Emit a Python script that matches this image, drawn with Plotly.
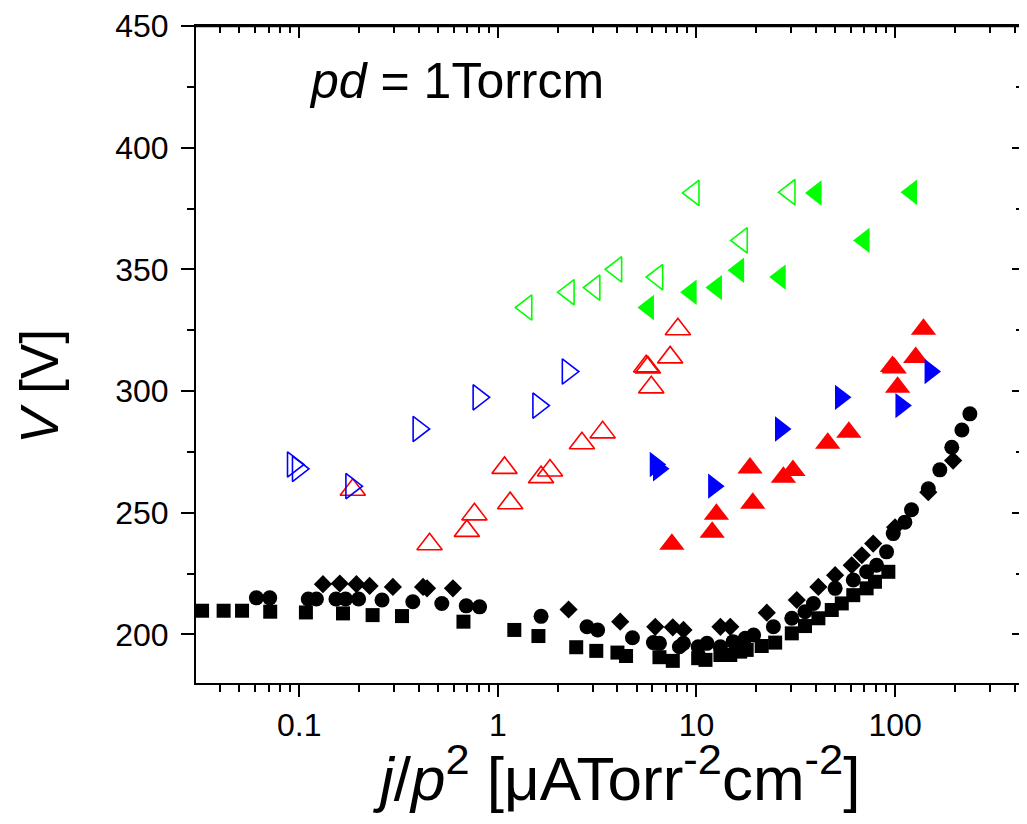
import plotly.graph_objects as go

# ---------------- data ----------------
sq_x = [0.0324, 0.0416, 0.0515, 0.0714, 0.108, 0.166, 0.234, 0.329, 0.671, 1.21, 1.60,
        2.48, 3.13, 4.0, 4.42, 6.51, 7.6, 10.2, 11.1, 13.2, 14.8, 16.6, 17.9, 21.3, 24.9,
        30.2, 35.2, 41.1, 48, 53.9, 61.6, 71.9, 79.2, 92.5]
sq_y = [209.7, 209.7, 209.7, 209.3, 209.0, 208.6, 207.9, 207.5, 205.2, 201.8, 199.3,
        194.7, 193.2, 192.5, 191.1, 190.6, 189.1, 190.2, 189.5, 191.5, 191.5, 192.9, 193.6, 195.2, 196.6,
        200.4, 203.4, 206.6, 210.0, 212.7, 216.1, 218.9, 221.6, 225.7]

ci_x = [0.0608, 0.071, 0.111, 0.122, 0.153, 0.171, 0.199, 0.261, 0.373, 0.522, 0.693, 0.809,
        1.65, 2.81, 3.18, 4.76, 6.07, 6.51, 8.2, 8.6, 10.2, 11.3, 13.2, 15.3, 17.6, 19.4,
        24.4, 30.2, 35.2, 38.8, 49.9, 61.6, 71.9, 80.7, 90.6, 97.9, 112, 121, 147, 168, 193, 217, 238]
ci_y = [215.0, 215.0, 214.5, 214.5, 214.5, 214.5, 214.5, 214.1, 213.4, 212.7, 211.7, 211.3,
        207.4, 203.1, 201.8, 198.6, 196.6, 196.3, 194.9, 196.3, 194.9, 196.3, 194.9, 197.0, 198.4, 199.7,
        203.1, 206.6, 209.3, 212.7, 218.9, 222.3, 225.7, 228.4, 233.9, 241.4, 246.1, 251.2, 259.8, 267.6, 276.9, 284.0, 290.6]

di_x = [0.1316, 0.160, 0.194, 0.226, 0.296, 0.42, 0.44, 0.594, 2.27, 4.13, 6.2, 7.6, 8.6,
        13.2, 14.8, 22.6, 32, 41.1, 49.9, 60.5, 68, 77.6, 100, 147, 196]
di_y = [220.6, 220.9, 220.6, 219.9, 219.5, 219.5, 218.9, 218.9, 210.2, 205.2, 203.1, 202.9, 201.8,
        203.1, 203.1, 208.9, 214.1, 219.5, 224.3, 228.4, 232.5, 237.3, 244.0, 258.4, 271.4]

red_open_x = [0.186, 0.453, 0.698, 0.762, 1.153, 1.08, 1.65, 1.83, 2.65, 3.37, 5.58, 5.69, 5.92, 7.37, 8.06]
red_open_y = [259.4, 237.0, 242.5, 249.3, 253.9, 268.4, 264.6, 267.3, 278.5, 283.0, 310.1, 309.7, 301.5, 313.8, 325.4]

red_fill_x = [7.52, 12.0, 12.6, 19.2, 18.6, 27.4, 30.6, 45.8, 58.5, 97, 99, 103, 127, 139]
red_fill_y = [237.0, 242.0, 249.3, 253.9, 268.4, 264.6, 267.3, 278.5, 283.0, 310.1, 309.5, 301.5, 313.8, 325.4]

blue_open_x = [0.093, 0.0985, 0.183, 0.399, 0.80, 1.60, 2.25]
blue_open_y = [269.8, 268.0, 260.9, 284.4, 297.4, 294.0, 308.0]

blue_fill_x = [6.2, 6.44, 12.2, 26.5, 53.1, 107, 150]
blue_fill_y = [269.8, 268.0, 260.9, 284.4, 297.4, 294.0, 308.0]

green_open_x = [1.39, 2.27, 3.06, 3.94, 6.34, 9.66, 16.9, 29.4]
green_open_y = [334.3, 340.6, 342.5, 350.0, 346.8, 381.4, 361.9, 381.7]

green_fill_x = [5.73, 9.4, 12.6, 16.3, 26.4, 40, 69.8, 121]
green_fill_y = [334.3, 340.6, 342.5, 349.6, 346.8, 381.4, 361.9, 381.7]

x_tickvals = [0.1, 1, 10, 100]
x_ticktext = ["0.1", "1", "10", "100"]
x_minor = [m * 10 ** e for e in (-2, -1, 0, 1, 2) for m in range(2, 10)]
y_tickvals = [200, 250, 300, 350, 400, 450]
y_minor = [225, 275, 325, 375, 425]

# ---------------- figure ----------------
FONT = "Liberation Sans, Arial, Helvetica, sans-serif"
fig = go.Figure()

def add(x, y, symbol, color, size, lw=0):
    fig.add_trace(go.Scatter(
        x=x, y=y, mode="markers", showlegend=False, hoverinfo="skip",
        marker=dict(symbol=symbol, color=color, size=size,
                    line=dict(color=color, width=lw))))

add(sq_x, sq_y, "square", "black", 14)
add(ci_x, ci_y, "circle", "black", 15)
add(di_x, di_y, "diamond", "black", 14)
add(red_open_x, red_open_y, "triangle-up-open", "#ff0000", 22, 1.6)
add(red_fill_x, red_fill_y, "triangle-up", "#ff0000", 22)
add(blue_open_x, blue_open_y, "triangle-right-open", "#0000ff", 22, 1.6)
add(blue_fill_x, blue_fill_y, "triangle-right", "#0000ff", 22)
add(green_open_x, green_open_y, "triangle-left-open", "#00ff00", 22, 1.6)
add(green_fill_x, green_fill_y, "triangle-left", "#00ff00", 22)

# empty trace to host the mirrored tick axes (top / right, inward ticks)
fig.add_trace(go.Scatter(x=[], y=[], xaxis="x2", yaxis="y2", showlegend=False))

# page = 8px body margin + figure; plot box: page x 196..1019, y 24.5..683.3
xr = [-1.52, 2.624]
yr = [180, 450]

fig.update_layout(
    width=1011, height=808,
    margin=dict(l=188, r=0, t=16, b=133),
    plot_bgcolor="white", paper_bgcolor="white",
    font=dict(family=FONT, color="black", size=32),
    showlegend=False,
    xaxis=dict(type="log", range=xr, tickmode="array", tickvals=x_tickvals, ticktext=x_ticktext,
               ticks="outside", ticklen=12, tickwidth=2, tickcolor="black",
               showline=True, linewidth=2, linecolor="black", mirror=True,
               showgrid=False, zeroline=False, tickfont=dict(size=32, family=FONT),
               ticklabelstandoff=1,
               minor=dict(tickmode="array", tickvals=x_minor, ticks="outside", ticklen=7,
                          tickwidth=2, tickcolor="black", showgrid=False)),
    yaxis=dict(range=yr, tickmode="array", tickvals=y_tickvals,
               ticks="outside", ticklen=13, tickwidth=2, tickcolor="black",
               showline=True, linewidth=2, linecolor="black",
               showgrid=False, zeroline=False, tickfont=dict(size=32, family=FONT),
               ticklabelstandoff=6, ticklabeloverflow="allow",
               minor=dict(tickmode="array", tickvals=y_minor, ticks="outside", ticklen=7,
                          tickwidth=2, tickcolor="black", showgrid=False)),
    xaxis2=dict(type="log", range=xr, overlaying="x", side="top", anchor="y2",
                tickmode="array", tickvals=x_tickvals, showticklabels=False,
                ticks="inside", ticklen=12, tickwidth=2, tickcolor="black",
                showline=False, showgrid=False, zeroline=False,
                minor=dict(tickmode="array", tickvals=x_minor, ticks="inside", ticklen=7,
                           tickwidth=2, tickcolor="black", showgrid=False)),
    yaxis2=dict(range=yr, overlaying="y", side="right", anchor="x2",
                tickmode="array", tickvals=y_tickvals, showticklabels=False,
                ticks="inside", ticklen=7, tickwidth=2, tickcolor="black",
                showline=False, showgrid=False, zeroline=False,
                minor=dict(tickmode="array", tickvals=y_minor, ticks="inside", ticklen=3,
                           tickwidth=2, tickcolor="black", showgrid=False)),
    shapes=[
        # top frame line of the plot box
        dict(type="line", xref="paper", yref="paper", x0=0, x1=1, y0=1, y1=1,
             line=dict(color="black", width=2.5), layer="above"),
    ],
    annotations=[
        dict(text="<i>pd</i> = 1Torrcm", x=0.1345, y=0.917, xref="paper", yref="paper",
             xanchor="left", yanchor="middle", showarrow=False, font=dict(size=50, family=FONT)),
        dict(text="<i>V</i> [V]", x=-0.191, y=0.452, xref="paper", yref="paper",
             xanchor="center", yanchor="middle", textangle=-90, showarrow=False,
             font=dict(size=53, family=FONT)),
        dict(text="<i>j</i>/<i>p</i><sup>2</sup> [μATorr<sup>-2</sup>cm<sup>-2</sup>]",
             x=0.5115, y=-0.139, xref="paper", yref="paper",
             xanchor="center", yanchor="middle", showarrow=False,
             font=dict(size=62, family=FONT)),
    ],
)

fig.write_html("out.html")
